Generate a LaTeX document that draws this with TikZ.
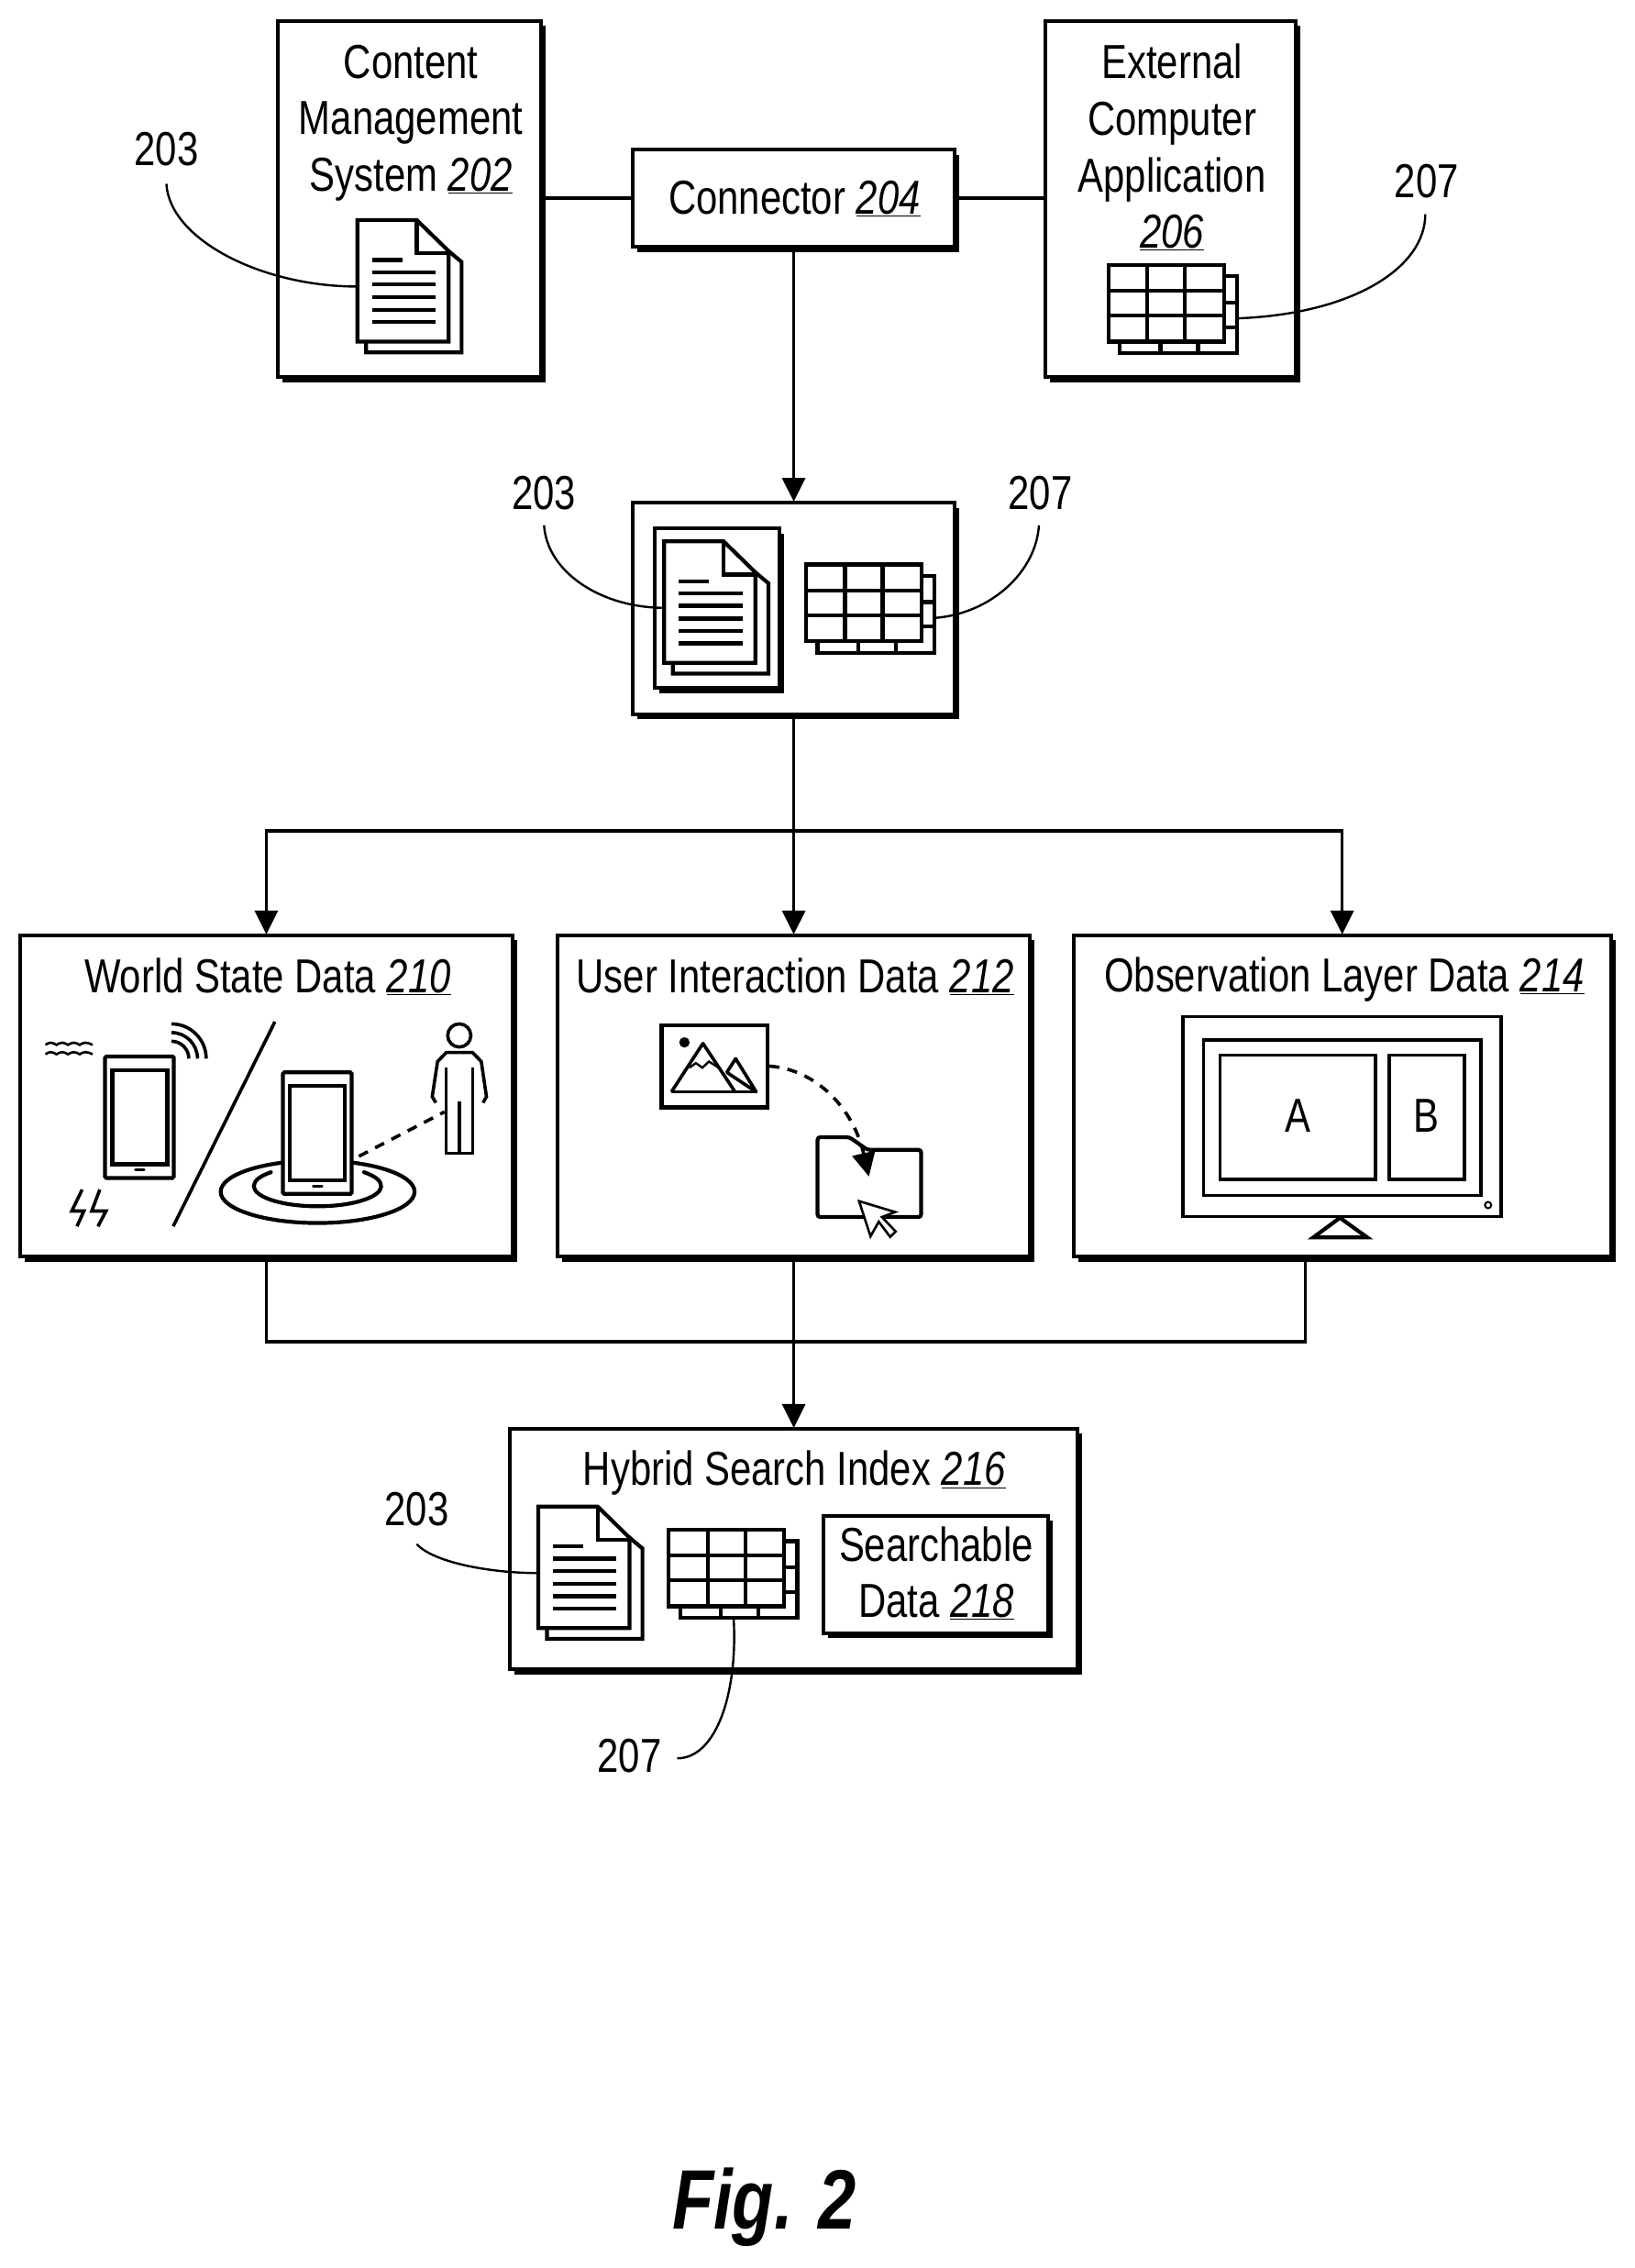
\documentclass[tikz,border=0pt]{standalone}
\usepackage{fontspec}
\setmainfont[FakeStretch=0.805]{Liberation Sans}
\usetikzlibrary{arrows.meta,shadows}
\newcommand{\refnum}[1]{\underline{\textit{#1}}}
\newcommand{\pxu}{1.578}
\tikzset{
	box/.style 2 args={draw,line width=4pt,fill=white,minimum width=#1*\pxu pt,minimum height=#2*\pxu pt,inner sep=0pt,drop shadow={shadow xshift=5pt,shadow yshift=-5.5pt,opacity=1,fill=black}},
	txt/.style={align=center,inner sep=0pt,font=\fontsize{52}{61.7}\selectfont},
	link/.style={line width=3.6pt},
	flow/.style={link,-{Triangle[length=26pt,width=25pt]},shorten >=-1pt},
	lead/.style={line width=2.4pt},
	icon/.style={line width=4.2pt,line join=miter},
	thin icon/.style={line width=3.6pt},
	docicon/.pic={
		\coordinate (-west) at (0,46);
		\draw[icon,fill=white] (63,21.5) -- (72,29) -- (72,91.5) -- (6,91.5) -- (6,84);
		\draw[icon,fill=white] (0,0) -- (41,0) -- (63,21.5) -- (63,84) -- (0,84) -- cycle;
		\draw[icon] (41,0) -- (41,23) -- (63,23);
		\draw[icon] (10,27.6) -- (31,27.6);
		\foreach \ly in {36,44.6,53.5,62,70.6} \draw[icon] (10,\ly) -- (54,\ly);
	},
	tableicon/.pic={
		\coordinate (-east) at (89,37);
		\coordinate (-south) at (45,61);
		\draw[icon,fill=white] (8,8) rectangle (89,61);
		\foreach \gx in {36,62} \draw[icon] (\gx,8) -- (\gx,61);
		\foreach \gy in {26,43} \draw[icon] (8,\gy) -- (89,\gy);
		\draw[icon,fill=white] (0,0) rectangle (80,53);
		\foreach \gx in {27,53} \draw[icon] (\gx,0) -- (\gx,53);
		\foreach \gy in {18,35} \draw[icon] (0,\gy) -- (80,\gy);
	},
	phoneicon/.pic={
		\draw[icon,fill=white,rounded corners=1.5pt] (0,0) rectangle (47.5,84);
		\draw[icon] (5,9.5) rectangle (43,74.5);
		\draw[icon,line width=3pt,line cap=round] (21,78.5) -- (27,78.5);
	}
}
\begin{document}
\begin{tikzpicture}[x=\pxu pt,y=-\pxu pt]
	\useasboundingbox (0,0) rectangle (1129.9,1567.2);

	\node [box={181.5}{246.2}] (cms) at (283.05,137.4) {};
	\node [txt] (cmstxt) at (284,85) {Content\\Management\\System \refnum{202}};
	\node [box={222.5}{67.2}] (conn) at (548.55,136.9) {};
	\node [txt] (conntxt) at (549,137) {Connector \refnum{204}};
	\node [box={173}{246.2}] (ext) at (809.05,137.4) {};
	\node [txt] (exttxt) at (810,101.8) {External\\Computer\\Application\\\refnum{206}};
	\node [box={222.5}{146.2}] (mid) at (548.55,420.4) {};
	\node [box={86.5}{110.2}] (midframe) at (495.55,420.4) {};
	\node [box={340.5}{222.2}] (world) at (184.05,757.4) {};
	\node [txt] (worldtxt) at (185,675) {World State Data \refnum{210}};
	\node [box={326.5}{222.2}] (user) at (548.55,757.4) {};
	\node [txt] (usertxt) at (549.5,675) {User Interaction Data \refnum{212}};
	\node [box={371.5}{222.2}] (obs) at (927.55,757.4) {};
	\node [txt] (obstxt) at (929,677) {Observation Layer Data \refnum{214}};
	\node [box={392.5}{166.2}] (hybrid) at (548.55,1070.4) {};
	\node [txt] (hybridtxt) at (549,1018) {Hybrid Search Index \refnum{216}};
	\node [box={155.5}{81.2}] (search) at (646.55,1087.9) {};
	\node [txt] (searchtxt) at (647,1087) {Searchable\\Data \refnum{218}};

	\pic (doca) at (247,152) {docicon};
	\pic (tabla) at (766,183) {tableicon};
	\pic (docb) at (459,374) {docicon};
	\pic (tablb) at (557,390) {tableicon};
	\pic (docc) at (372,1041) {docicon};
	\pic (tablc) at (462,1057) {tableicon};

	\node [txt] (n203a) at (115,103) {203};
	\node [txt] (n207a) at (986,125) {207};
	\node [txt] (n203b) at (376,341) {203};
	\node [txt] (n207b) at (719,341) {207};
	\node [txt] (n203c) at (288,1043) {203};
	\node [txt] (n207c) at (435,1213) {207};
	\coordinate (l203a) at (115,127);
	\coordinate (l207a) at (985,148);
	\coordinate (l203b) at (376,363);
	\coordinate (l207b) at (718,363);
	\coordinate (l203c) at (288,1067);
	\coordinate (l207c) at (468,1215);
	\draw [lead] (l203a) .. controls (117,165) and (180,198) .. (doca-west);
	\draw [lead] (l207a) .. controls (985,185) and (935,217) .. (tabla-east);
	\draw [lead] (l203b) .. controls (378,395) and (415,420) .. (docb-west);
	\draw [lead] (l207b) .. controls (716,395) and (685,424) .. (tablb-east);
	\draw [lead] (l203c) .. controls (300,1080) and (340,1087) .. (docc-west);
	\draw [lead] (tablc-south) .. controls (510,1170) and (495,1215) .. (l207c);

	\draw [link] (conn.west) -- (conn.west -| cms.east);
	\draw [link] (conn.east) -- (conn.east -| ext.west);
	\draw [flow] (conn.south) -- (mid.north);
	\coordinate (bus) at (548.55,574);
	\draw [link] (mid.south) -- (bus);
	\draw [flow] (bus) -| (world.north);
	\draw [flow] (bus) -- (user.north);
	\draw [flow] (bus) -| (obs.north);
	\coordinate (obsout) at (902,868);
	\coordinate (merge) at (548.55,927);
	\draw [link] (world.south) |- (merge) -| (obsout);
	\draw [flow] (user.south) -- (hybrid.north);

	\pic (phonea) at (72.6,730) {phoneicon};
	\draw [thin icon,line width=2.6pt] (31.4,722) sin (35,720.5) cos (39,722) sin (43,720.5) cos (47,722) sin (51,720.5) cos (55,722) sin (59,720.5) cos (64,722);
	\draw [thin icon,line width=2.6pt] (31.4,728.5) sin (35,727) cos (39,728.5) sin (43,727) cos (47,728.5) sin (51,727) cos (55,728.5) sin (59,727) cos (64,728.5);
	\foreach \rad in {12,18,24} \draw [thin icon] (118.5,731.5-\rad) arc [start angle=-90,end angle=0,radius=\rad];
	\draw [thin icon] (56.8,822) -- (49.6,836.8) -- (58,836.8) -- (53.2,847.4);
	\draw [thin icon] (69,822) -- (63.4,836.8) -- (73.3,836.8) -- (67.7,847.4);
	\draw [thin icon] (190,706) -- (119.7,847.4);
	\draw [icon] (219.5,823.5) ellipse [x radius=67,y radius=21.6];
	\draw [icon,line cap=round] (251.6,810) arc [start angle=-43,end angle=223,x radius=44,y radius=14];
	\pic (phoneb) at (195.5,741) {phoneicon};
	\draw [thin icon] (317.4,715.5) circle [radius=8];
	\draw [thin icon] (301.2,762) -- (298.7,757.8) -- (302.4,733.5) -- (308.4,727.3) -- (326.6,727.3) -- (332.6,733.5) -- (336.2,757.8) -- (333.8,762);
	\draw [thin icon] (308.4,737.8) -- (308.4,796.8) -- (326.6,796.8) -- (326.6,737.8);
	\draw [thin icon] (317.6,761) -- (317.6,796.8);
	\draw [thin icon,dashed,dash pattern=on 11pt off 9pt] (248,799) -- (307.2,768.3);

	\draw [icon] (457.2,708.3) rectangle (530.5,765.2);
	\fill (473,720.3) circle [radius=3.6];
	\draw [thin icon,line join=round] (464,754.5) -- (485.8,721) -- (508,754.5);
	\draw [thin icon,line join=round] (502.3,741) -- (508.4,731.5) -- (522.6,754.5) -- cycle;
	\draw [thin icon] (464,754.5) -- (522.6,754.5);
	\draw [line width=2.4pt] (476.4,737.8) -- (480.9,734.6) -- (485.4,737.8) -- (489.9,733.5) -- (497.8,738.5);
	\draw [icon,rounded corners=3pt] (565,785.8) -- (587,785.8) -- (599.4,794.5) -- (636.6,794.5) -- (636.6,841) -- (565,841) -- cycle;
	\coordinate (dragstart) at (531.7,736.7);
	\coordinate (dragend) at (600.5,813);
	\draw [thin icon,dashed,dash pattern=on 11pt off 9pt,-{Triangle[length=26pt,width=25pt]}] (dragstart) .. controls (565,739) and (590,767) .. (dragend);
	\draw [line width=2.6pt,fill=white] (593.7,830) -- (601.6,854.3) -- (607.3,844.2) -- (615.2,854.7) -- (619,851) -- (609.5,841) -- (618.6,837.5) -- cycle;

	\draw [thin icon] (817.5,702.5) rectangle (1037.5,840.5);
	\draw [thin icon] (831.7,718.8) rectangle (1023.5,826);
	\node [draw,thin icon,minimum width=107.5*\pxu pt,minimum height=86*\pxu pt,inner sep=0pt] (panela) at (897,772) {};
	\node [draw,thin icon,minimum width=52*\pxu pt,minimum height=86*\pxu pt,inner sep=0pt] (panelb) at (986,772) {};
	\node [txt] (atxt) at (897,771) {A};
	\node [txt] (btxt) at (986,771) {B};
	\draw [line width=2pt] (1028.4,832.7) circle [radius=2.2];
	\draw [icon] (926,841.5) -- (944.8,855) -- (907.7,855) -- cycle;

	\node [font=\fontsize{92}{100}\selectfont\bfseries\itshape,inner sep=0pt] (figlabel) at (528,1525) {Fig. 2};
\end{tikzpicture}
\end{document}
